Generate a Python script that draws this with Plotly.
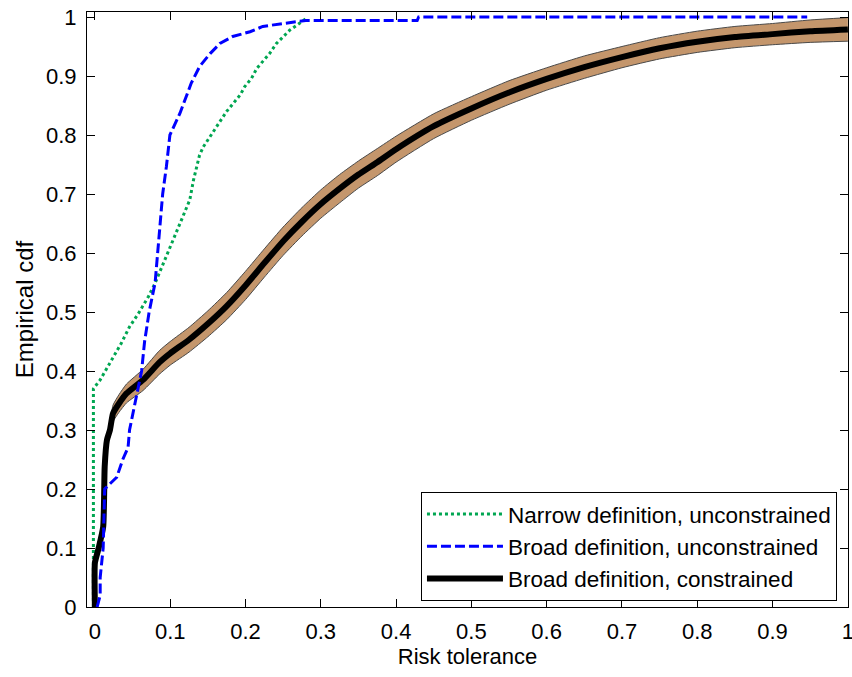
import plotly.graph_objects as go

# ---------------- data ----------------
narrow_unc_x = [-0.002, -0.002, 0.007, 0.02, 0.035, 0.046, 0.058, 0.071, 0.08, 0.095,
                0.11, 0.126, 0.131, 0.135, 0.139, 0.144, 0.150, 0.157, 0.166, 0.175,
                0.184, 0.193, 0.199, 0.208, 0.215, 0.224, 0.232, 0.241, 0.25, 0.259,
                0.268, 0.28]
narrow_unc_y = [0.0, 0.37, 0.385, 0.413, 0.447, 0.475, 0.498, 0.526, 0.549, 0.595,
                0.64, 0.69, 0.724, 0.746, 0.766, 0.78, 0.792, 0.806, 0.823, 0.84,
                0.854, 0.868, 0.882, 0.896, 0.913, 0.927, 0.938, 0.955, 0.967, 0.978,
                0.986, 0.997]

broad_unc_x = [0.003, 0.007, 0.007, 0.009, 0.011, 0.013, 0.029, 0.037, 0.044, 0.046,
               0.054, 0.062, 0.066, 0.072, 0.08, 0.083, 0.087, 0.09, 0.095, 0.0996,
               0.113, 0.1195, 0.128, 0.139, 0.153, 0.166, 0.183, 0.206, 0.223, 0.25,
               0.28, 0.428, 0.43, 0.946]
broad_unc_y = [0.0, 0.02, 0.05, 0.08, 0.10, 0.20, 0.22, 0.25, 0.27, 0.30,
               0.35, 0.40, 0.45, 0.50, 0.55, 0.60, 0.65, 0.70, 0.747, 0.80,
               0.837, 0.859, 0.888, 0.916, 0.938, 0.955, 0.967, 0.975, 0.984, 0.989,
               0.994, 0.994, 1.0, 1.0]

broad_con_x = [0.0, 0.0, 0.005, 0.011, 0.013, 0.016, 0.02, 0.024, 0.032, 0.042,
               0.064, 0.086, 0.10, 0.125, 0.15, 0.175, 0.20, 0.225, 0.25, 0.275,
               0.30, 0.325, 0.35, 0.375, 0.40, 0.45, 0.50, 0.55, 0.60, 0.65,
               0.70, 0.75, 0.80, 0.85, 0.90, 0.95, 1.0]
broad_con_y = [0.0, 0.075, 0.10, 0.136, 0.238, 0.283, 0.30, 0.328, 0.345, 0.362,
               0.385, 0.415, 0.43, 0.453, 0.48, 0.51, 0.545, 0.583, 0.62, 0.653,
               0.683, 0.709, 0.733, 0.754, 0.776, 0.815, 0.845, 0.872, 0.895, 0.915,
               0.932, 0.947, 0.958, 0.966, 0.971, 0.976, 0.979]
# half-width of the confidence band around the constrained cdf
band_halfwidth = [0.0, 0.0, 0.0, 0.0, 0.005, 0.01, 0.012, 0.014, 0.015, 0.016,
                  0.018, 0.02, 0.02, 0.021, 0.022, 0.023, 0.024, 0.024, 0.024, 0.024,
                  0.024, 0.024, 0.023, 0.023, 0.022, 0.021, 0.02, 0.02, 0.019, 0.019,
                  0.018, 0.018, 0.018, 0.018, 0.018, 0.019, 0.02]

x_ticks = [0, 0.1, 0.2, 0.3, 0.4, 0.5, 0.6, 0.7, 0.8, 0.9, 1]
x_tick_labels = ["0", "0.1", "0.2", "0.3", "0.4", "0.5", "0.6", "0.7", "0.8", "0.9", "1"]
y_ticks = [0, 0.1, 0.2, 0.3, 0.4, 0.5, 0.6, 0.7, 0.8, 0.9, 1]
y_tick_labels = ["0", "0.1", "0.2", "0.3", "0.4", "0.5", "0.6", "0.7", "0.8", "0.9", "1"]

series_names = ["Narrow definition, unconstrained",
                "Broad definition, unconstrained",
                "Broad definition, constrained"]

band_lower = [c - h for c, h in zip(broad_con_y, band_halfwidth)]
band_upper = [c + h for c, h in zip(broad_con_y, band_halfwidth)]

FONT = "Arial, Liberation Sans, Helvetica, sans-serif"
GREEN = "#00A651"
BLUE = "#0000FF"
TAN = "#C4966C"
EDGE = "#4a4a4a"

fig = go.Figure()

fig.add_trace(go.Scatter(
    x=narrow_unc_x, y=narrow_unc_y, mode="lines", name=series_names[0],
    line=dict(color=GREEN, width=3, dash="3px,3px"), legendrank=1))

fig.add_trace(go.Scatter(
    x=broad_con_x, y=band_lower, mode="lines", showlegend=False, hoverinfo="skip",
    line=dict(color=EDGE, width=1, shape="spline", smoothing=0.5)))
fig.add_trace(go.Scatter(
    x=broad_con_x, y=band_upper, mode="lines", showlegend=False, hoverinfo="skip",
    fill="tonexty", fillcolor=TAN,
    line=dict(color=EDGE, width=1, shape="spline", smoothing=0.5)))

fig.add_trace(go.Scatter(
    x=broad_con_x, y=broad_con_y, mode="lines", name=series_names[2],
    line=dict(color="black", width=6, shape="spline", smoothing=0.5), legendrank=3))

fig.add_trace(go.Scatter(
    x=broad_unc_x, y=broad_unc_y, mode="lines", name=series_names[1],
    line=dict(color=BLUE, width=3, dash="10px,4px"), legendrank=2))

axis_common = dict(
    showline=True, linecolor="black", linewidth=1, mirror="ticks",
    ticks="inside", ticklen=8, tickcolor="black", tickwidth=1,
    showgrid=False, zeroline=False, automargin=False,
    ticklabeloverflow="allow",
    tickfont=dict(family=FONT, size=22, color="black"),
)

fig.update_layout(
    width=852, height=677,
    margin=dict(l=87, r=4, t=12, b=70, autoexpand=False),
    paper_bgcolor="white", plot_bgcolor="white",
    font=dict(family=FONT, size=22, color="black"),
    xaxis=dict(range=[-0.0105, 1.0002], tickvals=x_ticks, ticktext=x_tick_labels,
               ticklabelstandoff=5,
               title=dict(text="Risk tolerance", font=dict(family=FONT, size=22), standoff=5),
               **axis_common),
    yaxis=dict(range=[0, 1.0085], tickvals=y_ticks, ticktext=y_tick_labels,
               ticklabelstandoff=5,
               title=dict(text="Empirical cdf", font=dict(family=FONT, size=24), standoff=5),
               **axis_common),
    legend=dict(x=0.9855, y=0.0101, xanchor="right", yanchor="bottom",
                bgcolor="white", bordercolor="black", borderwidth=1,
                font=dict(family=FONT, size=22.5, color="black"),
                tracegroupgap=0, traceorder="normal", itemwidth=76,
                entrywidth=340),
    showlegend=True,
)

# remove the default 8px page margin so the 852x677 figure fills the window exactly
fig.write_html(
    "out.html",
    config={"displayModeBar": False},
    post_script="document.body.style.margin='0';document.body.style.overflow='hidden';",
)
